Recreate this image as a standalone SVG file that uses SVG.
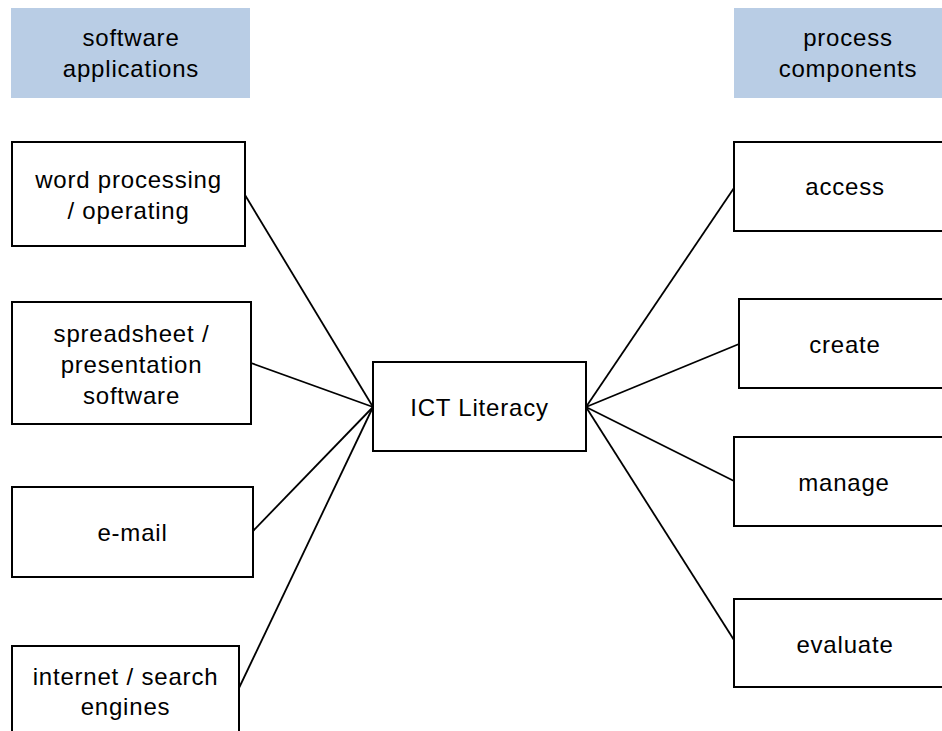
<svg xmlns="http://www.w3.org/2000/svg" width="942" height="731" viewBox="0 0 942 731">
<style>
.hdr{fill:#B9CDE5;stroke:none}
.box{fill:#FFFFFF;stroke:#000000;stroke-width:2}
.lbl{font-family:"Liberation Sans",Arial,sans-serif;font-size:24px;fill:#000000;text-anchor:middle;letter-spacing:0.8px}
.con line{stroke:#000000;stroke-width:1.8}
</style>
<rect x="0" y="0" width="942" height="731" fill="#FFFFFF"/>
<g id="connectors" class="con">
<line x1="245" y1="195" x2="373" y2="407"/>
<line x1="251" y1="363" x2="373" y2="407"/>
<line x1="253" y1="531" x2="373" y2="407"/>
<line x1="239" y1="688" x2="373" y2="407"/>
<line x1="586" y1="407" x2="734" y2="188"/>
<line x1="586" y1="407" x2="739" y2="344"/>
<line x1="586" y1="407" x2="734" y2="481"/>
<line x1="586" y1="407" x2="734" y2="640"/>
</g>
<g id="hdr-software">
<rect class="hdr" x="11" y="8" width="239" height="90"/>
<text class="lbl" x="131" y="46">software</text>
<text class="lbl" x="131" y="77">applications</text>
</g>
<g id="hdr-process">
<rect class="hdr" x="734" y="8" width="228" height="90"/>
<text class="lbl" x="848" y="46">process</text>
<text class="lbl" x="848" y="77">components</text>
</g>
<g id="n-word">
<rect class="box" x="12" y="142" width="233" height="104"/>
<text class="lbl" x="128.5" y="187.5">word processing</text>
<text class="lbl" x="128.5" y="218.5">/ operating</text>
</g>
<g id="n-spreadsheet">
<rect class="box" x="12" y="302" width="239" height="122"/>
<text class="lbl" x="131.5" y="341.5">spreadsheet /</text>
<text class="lbl" x="131.5" y="372.5">presentation</text>
<text class="lbl" x="131.5" y="404">software</text>
</g>
<g id="n-email">
<rect class="box" x="12" y="487" width="241" height="90"/>
<text class="lbl" x="132.5" y="541">e-mail</text>
</g>
<g id="n-internet">
<rect class="box" x="12" y="646" width="227" height="94"/>
<text class="lbl" x="125.5" y="685">internet / search</text>
<text class="lbl" x="125.5" y="715">engines</text>
</g>
<g id="n-ict">
<rect class="box" x="373" y="362" width="213" height="89"/>
<text class="lbl" x="479.5" y="416">ICT Literacy</text>
</g>
<g id="n-access">
<rect class="box" x="734" y="142" width="222" height="89"/>
<text class="lbl" x="845" y="195">access</text>
</g>
<g id="n-create">
<rect class="box" x="739" y="299" width="212" height="89"/>
<text class="lbl" x="845" y="352.5">create</text>
</g>
<g id="n-manage">
<rect class="box" x="734" y="437" width="222" height="89"/>
<text class="lbl" x="844" y="491">manage</text>
</g>
<g id="n-evaluate">
<rect class="box" x="734" y="599" width="222" height="88"/>
<text class="lbl" x="845" y="652.5">evaluate</text>
</g>
</svg>
